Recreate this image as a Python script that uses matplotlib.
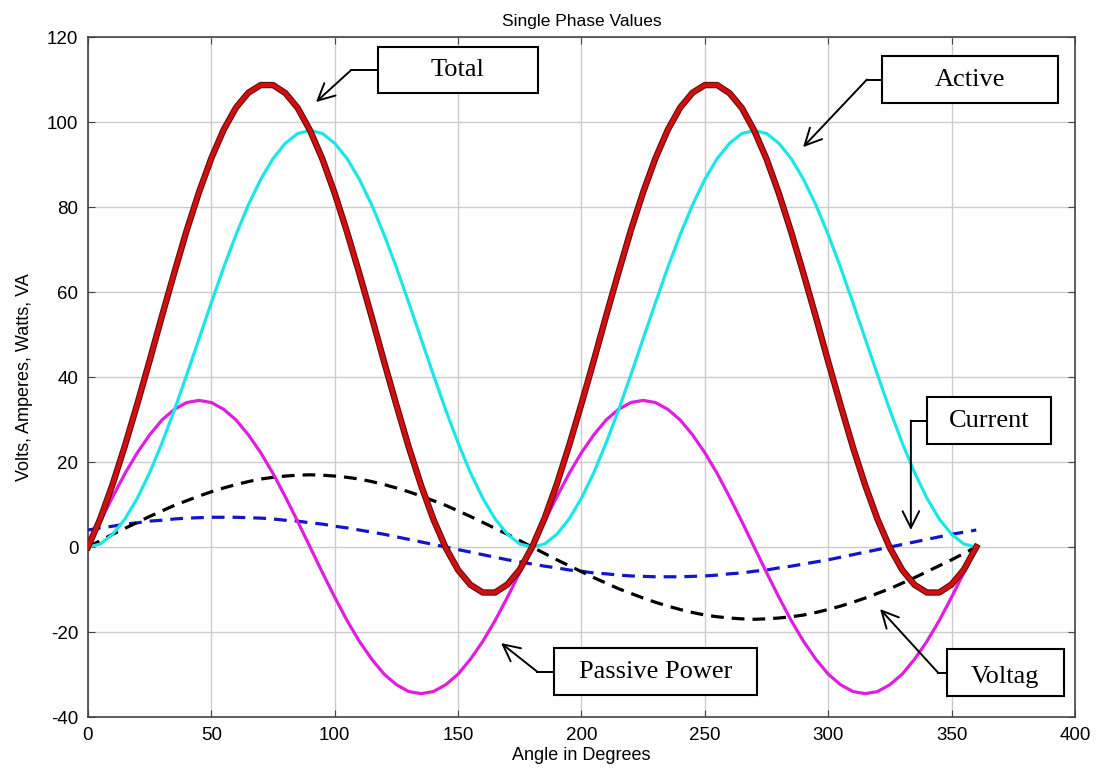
import matplotlib
matplotlib.use("Agg")
import matplotlib.pyplot as plt
import matplotlib.patheffects as pe
from matplotlib.patches import Rectangle
import numpy as np

# angle samples, every 5 degrees
angle = list(range(0, 365, 5))

voltage = [0, 1.5, 3.0, 4.4, 5.8, 7.2, 8.5, 9.8, 10.9, 12.0, 13.0, 13.9, 14.7, 15.4, 16.0, 16.4, 16.7, 16.9,
           17.0, 16.9, 16.7, 16.4, 16.0, 15.4, 14.7, 13.9, 13.0, 12.0, 10.9, 9.8, 8.5, 7.2, 5.8, 4.4, 3.0, 1.5,
           0, -1.5, -3.0, -4.4, -5.8, -7.2, -8.5, -9.8, -10.9, -12.0, -13.0, -13.9, -14.7, -15.4, -16.0, -16.4, -16.7, -16.9,
           -17.0, -16.9, -16.7, -16.4, -16.0, -15.4, -14.7, -13.9, -13.0, -12.0, -10.9, -9.8, -8.5, -7.2, -5.8, -4.4, -3.0, -1.5, 0]

current = [4.0, 4.5, 4.9, 5.4, 5.7, 6.1, 6.3, 6.6, 6.8, 6.9, 7.0, 7.0, 7.0, 6.9, 6.8, 6.6, 6.3, 6.1,
           5.7, 5.4, 4.9, 4.5, 4.0, 3.5, 3.0, 2.4, 1.8, 1.2, 0.6, 0.0, -0.6, -1.2, -1.8, -2.4, -3.0, -3.5,
           -4.0, -4.5, -4.9, -5.4, -5.7, -6.1, -6.3, -6.6, -6.8, -6.9, -7.0, -7.0, -7.0, -6.9, -6.8, -6.6, -6.3, -6.1,
           -5.7, -5.4, -4.9, -4.5, -4.0, -3.5, -3.0, -2.4, -1.8, -1.2, -0.6, 0.0, 0.6, 1.2, 1.8, 2.4, 3.0, 3.5, 4.0]

active = [0, 0.7, 3.0, 6.6, 11.5, 17.5, 24.5, 32.2, 40.5, 49.0, 57.5, 65.8, 73.5, 80.5, 86.5, 91.4, 95.0, 97.3,
          98.0, 97.3, 95.0, 91.4, 86.5, 80.5, 73.5, 65.8, 57.5, 49.0, 40.5, 32.2, 24.5, 17.5, 11.5, 6.6, 3.0, 0.7,
          0, 0.7, 3.0, 6.6, 11.5, 17.5, 24.5, 32.2, 40.5, 49.0, 57.5, 65.8, 73.5, 80.5, 86.5, 91.4, 95.0, 97.3,
          98.0, 97.3, 95.0, 91.4, 86.5, 80.5, 73.5, 65.8, 57.5, 49.0, 40.5, 32.2, 24.5, 17.5, 11.5, 6.6, 3.0, 0.7, 0]

passive = [0, 6.0, 11.8, 17.3, 22.2, 26.4, 29.9, 32.4, 34.0, 34.5, 34.0, 32.4, 29.9, 26.4, 22.2, 17.3, 11.8, 6.0,
           0, -6.0, -11.8, -17.3, -22.2, -26.4, -29.9, -32.4, -34.0, -34.5, -34.0, -32.4, -29.9, -26.4, -22.2, -17.3, -11.8, -6.0,
           0, 6.0, 11.8, 17.3, 22.2, 26.4, 29.9, 32.4, 34.0, 34.5, 34.0, 32.4, 29.9, 26.4, 22.2, 17.3, 11.8, 6.0,
           0, -6.0, -11.8, -17.3, -22.2, -26.4, -29.9, -32.4, -34.0, -34.5, -34.0, -32.4, -29.9, -26.4, -22.2, -17.3, -11.8, -6.0, 0]

total = [0, 6.7, 14.8, 23.9, 33.7, 43.9, 54.4, 64.6, 74.5, 83.5, 91.5, 98.2, 103.4, 106.9, 108.7, 108.7, 106.8, 103.3,
         98.0, 91.3, 83.2, 74.1, 64.3, 54.1, 43.6, 33.4, 23.5, 14.5, 6.5, -0.2, -5.4, -8.9, -10.7, -10.7, -8.8, -5.3,
         0, 6.7, 14.8, 23.9, 33.7, 43.9, 54.4, 64.6, 74.5, 83.5, 91.5, 98.2, 103.4, 106.9, 108.7, 108.7, 106.8, 103.3,
         98.0, 91.3, 83.2, 74.1, 64.3, 54.1, 43.6, 33.4, 23.5, 14.5, 6.5, -0.2, -5.4, -8.9, -10.7, -10.7, -8.8, -5.3, 0]

xticks = [0, 50, 100, 150, 200, 250, 300, 350, 400]
yticks = [-40, -20, 0, 20, 40, 60, 80, 100, 120]

# label boxes: text, box (x0, y0, x1, y1), elbow point, arrow tip
labels = [
    ("Total", (117.5, 106.8, 182.4, 117.6), (106.6, 112.2), (92.4, 104.7)),
    ("Active", (321.8, 104.5, 393.1, 115.5), (315.7, 110.0), (289.8, 94.1)),
    ("Current", (340.0, 24.2, 390.3, 35.3), (333.5, 29.75), (333.5, 4.0)),
    ("Passive Power", (188.9, -34.8, 271.1, -23.8), (182.0, -29.3), (167.4, -22.6)),
    ("Voltag", (348.1, -35.1, 395.5, -24.0), (344.5, -29.55), (321.0, -14.6)),
]

plt.rcParams['font.family'] = ['Liberation Sans', 'DejaVu Sans']
plt.rcParams['axes.unicode_minus'] = False
plt.rcParams['lines.solid_joinstyle'] = 'round'
plt.rcParams['lines.dash_joinstyle'] = 'round'

fig = plt.figure(figsize=(11.04, 7.73), dpi=100)
ax = fig.add_axes([0.0797, 0.0724, 0.894, 0.8797])

ax.plot(angle, current, color='#1515c8', lw=2.3, ls=(0, (4, 2.5)), zorder=3)
ax.plot(angle, voltage, color='black', lw=2.3, ls=(0, (4, 2.5)), zorder=3)
ax.plot(angle, passive, color='#e01ee0', lw=2.3, zorder=4)
ax.plot(angle, active, color='#1ee6e6', lw=2.3, zorder=4)
ax.plot(angle, total, color='#d01010', lw=3.0, zorder=5,
        path_effects=[pe.Stroke(linewidth=4.6, foreground='#6a0a0a', joinstyle='round'), pe.Normal()])

ax.set_xlim(0, 400)
ax.set_ylim(-40, 120)
ax.set_xticks(xticks)
ax.set_yticks(yticks)
ax.tick_params(direction='in', length=5, top=True, right=True, labelsize=13.5, pad=7,
               color='#444444')
ax.grid(True, color='#cccccc', lw=1.0)
ax.set_axisbelow(True)
for s in ax.spines.values():
    s.set_color('#444444')
    s.set_linewidth(1.2)

ax.set_title('Single Phase Values', fontsize=12.5, pad=8)
ax.set_xlabel('Angle in Degrees', fontsize=13, labelpad=2)
ax.set_ylabel('Volts, Amperes, Watts, VA', fontsize=13, labelpad=10)

for txt, (x0, y0, x1, y1), elbow, tip in labels:
    rect = Rectangle((x0, y0), x1 - x0, y1 - y0, facecolor='white', edgecolor='black',
                     lw=1.5, zorder=10, clip_on=False)
    ax.add_patch(rect)
    t = ax.text((x0 + x1) / 2, (y0 + y1) / 2, txt, ha='center', va='center',
                family=['Liberation Serif', 'DejaVu Serif'], fontsize=19, zorder=11)
    if txt == "Voltag":
        t.set_va('baseline')
        t.set_y(y0 + 3.0)
        clip = Rectangle((x0, y0 + 2.6), x1 - x0, y1 - y0 - 2.6, transform=ax.transData,
                         visible=False)
        ax.add_patch(clip)
        t.set_clip_path(clip)
    ax.plot([x0, elbow[0]], [(y0 + y1) / 2, elbow[1]], color='black', lw=1.4,
            zorder=10, clip_on=False)
    ax.annotate('', xy=tip, xytext=elbow, zorder=10,
                arrowprops=dict(arrowstyle='->,head_length=0.6,head_width=0.3',
                                color='black', lw=1.4, shrinkA=0, shrinkB=0,
                                mutation_scale=20))

plt.savefig('out.png', dpi=100)
